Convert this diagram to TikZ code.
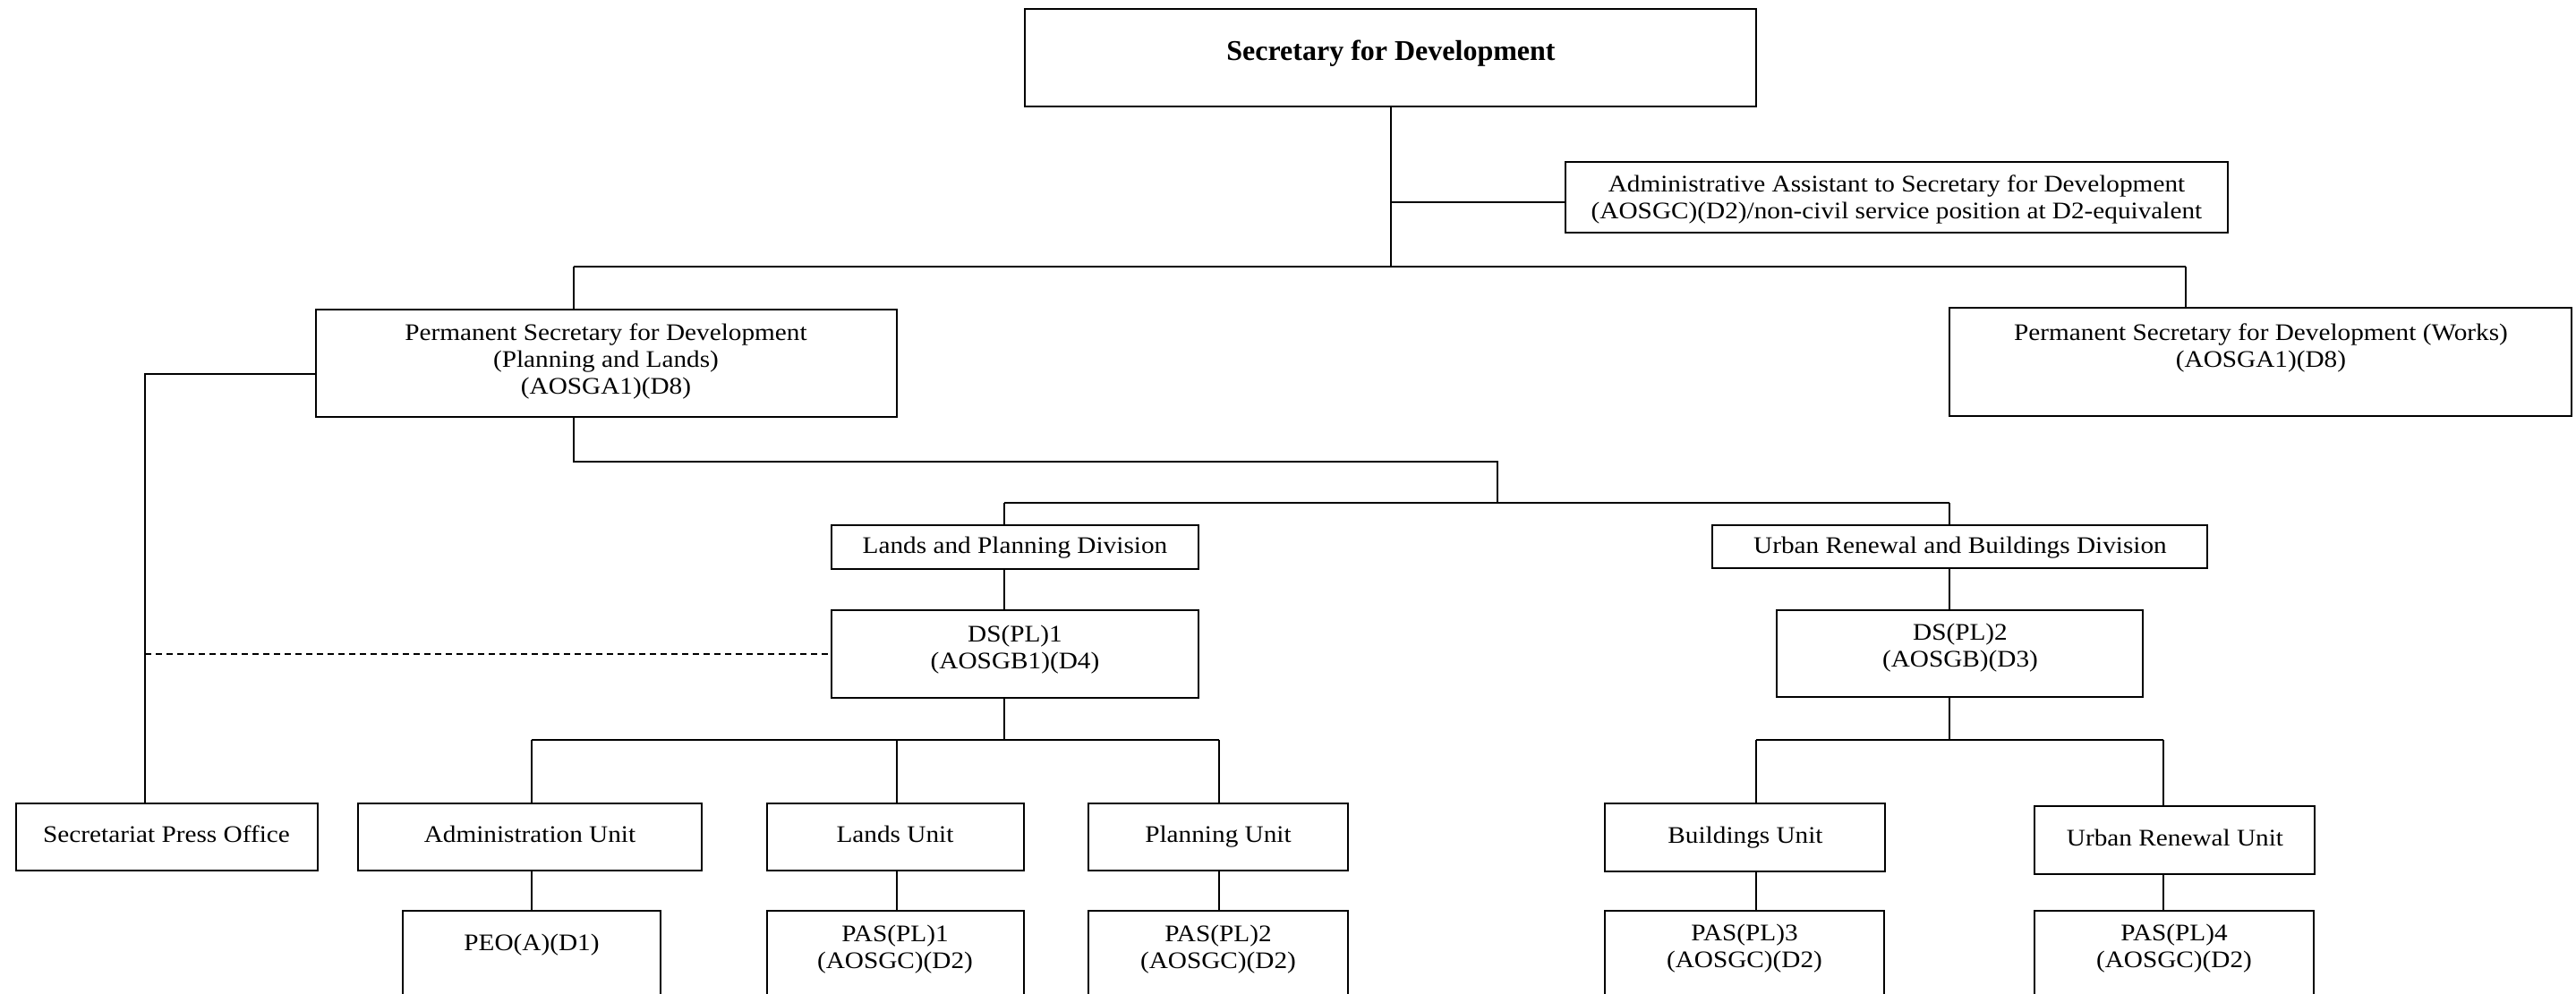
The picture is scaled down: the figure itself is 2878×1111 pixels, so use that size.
\documentclass[tikz,border=0pt]{standalone}
\usepackage{fontspec}
\setmainfont{Liberation Serif}[FakeStretch=1.1]
\newfontfamily\titlefont{Liberation Serif}
\usetikzlibrary{fit}
\newcommand\obox[5]{\node[boxs, fit={(#2,#3) (#4,#5)}] (#1) {};}
\begin{document}
\begin{tikzpicture}[x=0.5pt,y=-0.5pt,
  boxs/.style={draw, line width=1.15pt, inner sep=0pt, outer sep=0pt},
  txt/.style={align=center, inner sep=0pt, font=\fontsize{13.3}{15}\selectfont},
  ttl/.style={inner sep=0pt, font=\titlefont\bfseries\fontsize{16}{19}\selectfont},
  conn/.style={line width=1pt},
  dconn/.style={line width=1pt, dash pattern=on 3.5pt off 2.5pt}]
\useasboundingbox (0,0) rectangle (2878,1111);
\fill[white] (0,0) rectangle (2878,1111);
\clip (0,0) rectangle (2878,1111);

% boxes
\obox{sec}{1145}{10}{1962}{119}
\obox{aa}{1749}{181}{2489}{260}
\obox{pspl}{353}{346}{1002}{466}
\obox{psw}{2178}{344}{2873}{465}
\obox{lpd}{929}{587}{1339}{636}
\obox{urbd}{1913}{587}{2466}{635}
\obox{ds1}{929}{682}{1339}{780}
\obox{ds2}{1985}{682}{2394}{779}
\obox{spo}{18}{898}{355}{973}
\obox{adu}{400}{898}{784}{973}
\obox{lnu}{857}{898}{1144}{973}
\obox{plu}{1216}{898}{1506}{973}
\obox{bdu}{1793}{898}{2106}{974}
\obox{uru}{2273}{901}{2586}{977}
\obox{peo}{450}{1018}{738}{1160}
\obox{pas1}{857}{1018}{1144}{1160}
\obox{pas2}{1216}{1018}{1506}{1160}
\obox{pas3}{1793}{1018}{2105}{1160}
\obox{pas4}{2273}{1018}{2585}{1160}

% texts
\node[ttl, anchor=base] (sec-t) at (1554,68) {Secretary for Development};
\node[txt] (aa-t) at (2119,223) {Administrative Assistant to Secretary for Development\\(AOSGC)(D2)/non-civil service position at D2-equivalent};
\node[txt] (pspl-t) at (677,404) {Permanent Secretary for Development\\(Planning and Lands)\\(AOSGA1)(D8)};
\node[txt] (psw-t) at (2526,389) {Permanent Secretary for Development (Works)\\(AOSGA1)(D8)};
\node[txt, anchor=base] (lpd-t) at (1134,618) {Lands and Planning Division};
\node[txt, anchor=base] (urbd-t) at (2190,618) {Urban Renewal and Buildings Division};
\node[txt] (ds1-t) at (1134,726) {DS(PL)1\\(AOSGB1)(D4)};
\node[txt] (ds2-t) at (2190,724) {DS(PL)2\\(AOSGB)(D3)};
\node[txt, anchor=base] (spo-t) at (186,941) {Secretariat Press Office};
\node[txt, anchor=base] (adu-t) at (592,941) {Administration Unit};
\node[txt, anchor=base] (lnu-t) at (1000,941) {Lands Unit};
\node[txt, anchor=base] (plu-t) at (1361,941) {Planning Unit};
\node[txt, anchor=base] (bdu-t) at (1950,942) {Buildings Unit};
\node[txt, anchor=base] (uru-t) at (2430,945) {Urban Renewal Unit};
\node[txt] (peo-t) at (594,1056) {PEO(A)(D1)};
\node[txt] (pas1-t) at (1000,1061) {PAS(PL)1\\(AOSGC)(D2)};
\node[txt] (pas2-t) at (1361,1061) {PAS(PL)2\\(AOSGC)(D2)};
\node[txt] (pas3-t) at (1949,1060) {PAS(PL)3\\(AOSGC)(D2)};
\node[txt] (pas4-t) at (2429,1060) {PAS(PL)4\\(AOSGC)(D2)};

% junction coordinates
\coordinate (aaj) at ([yshift=-2.75pt]aa.west);
\coordinate (b1L) at (641,298);
\coordinate (b1R) at (2442,298);
\coordinate (c1) at (162,418);
\coordinate (c2) at (162,731);
\coordinate (c3) at (641,516);
\coordinate (c4) at (1673,516);
\coordinate (c5) at (1673,562);
\coordinate (b2L) at (1122,562);
\coordinate (b2R) at (2178,562);
\coordinate (b3) at (1122,827);
\coordinate (b3L) at (594,827);
\coordinate (b3M) at (1002,827);
\coordinate (b3R) at (1362,827);
\coordinate (b4) at (2178,827);
\coordinate (b4L) at (1962,827);
\coordinate (b4R) at (2417,827);

% connectors
\draw[conn] (sec.south) -- (sec.south |- b1L);
\draw[conn] (sec.south |- aaj) -- (aaj);
\draw[conn] (b1L) -- (b1R);
\draw[conn] (b1L) -- (b1L |- pspl.north);
\draw[conn] (b1R) -- (b1R |- psw.north);
\draw[conn] (pspl.west |- c1) -- (c1) -- (c1 |- spo.north);
\draw[dconn] (c2) -- (c2 -| ds1.west);
\draw[conn] (c3 |- pspl.south) -- (c3) -- (c4) -- (c5);
\draw[conn] (b2L) -- (b2R);
\draw[conn] (b2L) -- (b2L |- lpd.north);
\draw[conn] (b2R) -- (b2R |- urbd.north);
\draw[conn] (b2L |- lpd.south) -- (b2L |- ds1.north);
\draw[conn] (b2R |- urbd.south) -- (b2R |- ds2.north);
\draw[conn] (b3 |- ds1.south) -- (b3);
\draw[conn] (b3L) -- (b3R);
\draw[conn] (b3L) -- (b3L |- adu.north);
\draw[conn] (b3M) -- (b3M |- lnu.north);
\draw[conn] (b3R) -- (b3R |- plu.north);
\draw[conn] (b3L |- adu.south) -- (b3L |- peo.north);
\draw[conn] (b3M |- lnu.south) -- (b3M |- pas1.north);
\draw[conn] (b3R |- plu.south) -- (b3R |- pas2.north);
\draw[conn] (b4 |- ds2.south) -- (b4);
\draw[conn] (b4L) -- (b4R);
\draw[conn] (b4L) -- (b4L |- bdu.north);
\draw[conn] (b4R) -- (b4R |- uru.north);
\draw[conn] (b4L |- bdu.south) -- (b4L |- pas3.north);
\draw[conn] (b4R |- uru.south) -- (b4R |- pas4.north);
\end{tikzpicture}
\end{document}
